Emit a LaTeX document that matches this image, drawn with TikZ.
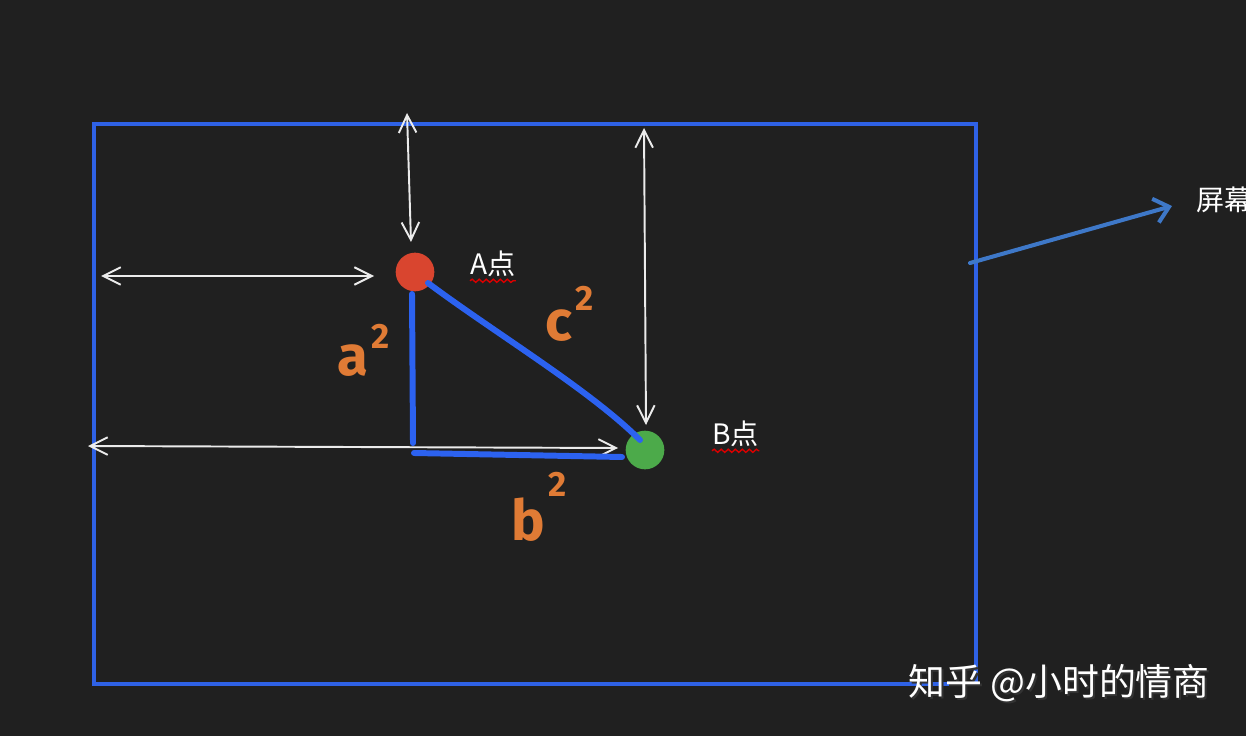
\documentclass[tikz,border=0pt]{standalone}
\usepackage{fontspec}
\newfontfamily\cjk{Noto Sans CJK SC}
\newfontfamily\hand{Fira Sans}
\usetikzlibrary{arrows.meta,decorations.pathmorphing}
\definecolor{bg}{HTML}{202020}
\definecolor{screenblue}{HTML}{2F62E6}
\definecolor{sideblue}{HTML}{2C62F0}
\definecolor{pointerblue}{HTML}{3E78C8}
\definecolor{pointred}{HTML}{D9452F}
\definecolor{pointgreen}{HTML}{4CAA4A}
\definecolor{handorange}{HTML}{E07B35}
\tikzset{
  screen/.style={draw=screenblue, line width=2.2pt},
  measure/.style={draw=white!92!black, line width=1.1pt,
    {Straight Barb[length=10pt,width=10pt]}-{Straight Barb[length=10pt,width=10pt]}},
  pointer/.style={draw=pointerblue, line width=2.3pt, line cap=round,
    -{Straight Barb[length=8pt,width=14pt]}},
  side/.style={draw=sideblue, line width=3.4pt, line cap=round},
  dot/.style={circle, minimum size=22pt, inner sep=0pt},
  tag/.style={text=white, font=\cjk\fontsize{16}{16}\selectfont, inner sep=0pt, anchor=west},
  squiggle/.style={draw=red!85!black, line width=0.8pt, decorate,
    decoration={snake, amplitude=0.9pt, segment length=4pt}},
  hand/.style={text=handorange, font=\hand\bfseries\fontsize{32}{32}\selectfont, inner sep=0pt, anchor=base west}
}
\begin{document}
\begin{tikzpicture}[x=0.02cm, y=-0.02cm]
\useasboundingbox[fill=bg] (0,0) rectangle (1246,736);

\draw[screen] (94,124) rectangle (976,684);

\node[dot, fill=pointred] (A) at (415,272) {};
\node[dot, fill=pointgreen] (B) at (645,450) {};

\node[tag] (alabel) at (470,264) {A点};
\node[tag] (blabel) at (712,434) {B点};
\node[tag] (screenlabel) at (1196,200) {屏幕};
\draw[squiggle] ([yshift=-2pt]alabel.south west) -- ([yshift=-2pt]alabel.south east);
\draw[squiggle] ([yshift=-2pt]blabel.south west) -- ([yshift=-2pt]blabel.south east);

\coordinate (top1) at (407,113);
\coordinate (top2) at (411,242);
\coordinate (top3) at (644,128);
\coordinate (top4) at (646,425);
\coordinate (left1) at (101,276);
\coordinate (left2) at (374,276);
\coordinate (left3) at (88,446);
\coordinate (left4) at (618,448);
\foreach \s/\e in {top1/top2, top3/top4, left1/left2, left3/left4}
	\draw[measure] (\s) -- (\e);

\coordinate (edge) at (970,263);
\coordinate (tip) at (1172,206);
\draw[pointer] (edge) -- (tip);

\coordinate (sa1) at (412,294);
\coordinate (sa2) at (413,443);
\coordinate (sb1) at (414,453);
\coordinate (sb2) at (622,457);
\coordinate (sc1) at (428,283);
\coordinate (sc2) at (640,440);
\draw[side] (sa1) -- (sa2);
\draw[side] (sb1) -- (sb2);
\draw[side] (sc1) .. controls (495,333) and (590,390) .. (sc2);

\node[hand] (aside) at (337,375) {a\hspace{2pt}\raisebox{15pt}{\fontsize{20}{20}\selectfont 2}};
\node[hand] (bside) at (511,540) {b\hspace{2pt}\raisebox{25pt}{\fontsize{20}{20}\selectfont 2}};
\node[hand] (cside) at (545,340) {c\hspace{2pt}\raisebox{17pt}{\fontsize{20}{20}\selectfont 2}};

\node[text=black!80, font=\cjk\fontsize{21}{21}\selectfont, inner sep=0pt, anchor=west] (markshadow) at (910,685) {知乎 @小时的情商};
\node[text=white, font=\cjk\fontsize{21}{21}\selectfont, inner sep=0pt, anchor=west] (mark) at (908,683) {知乎 @小时的情商};
\end{tikzpicture}
\end{document}
